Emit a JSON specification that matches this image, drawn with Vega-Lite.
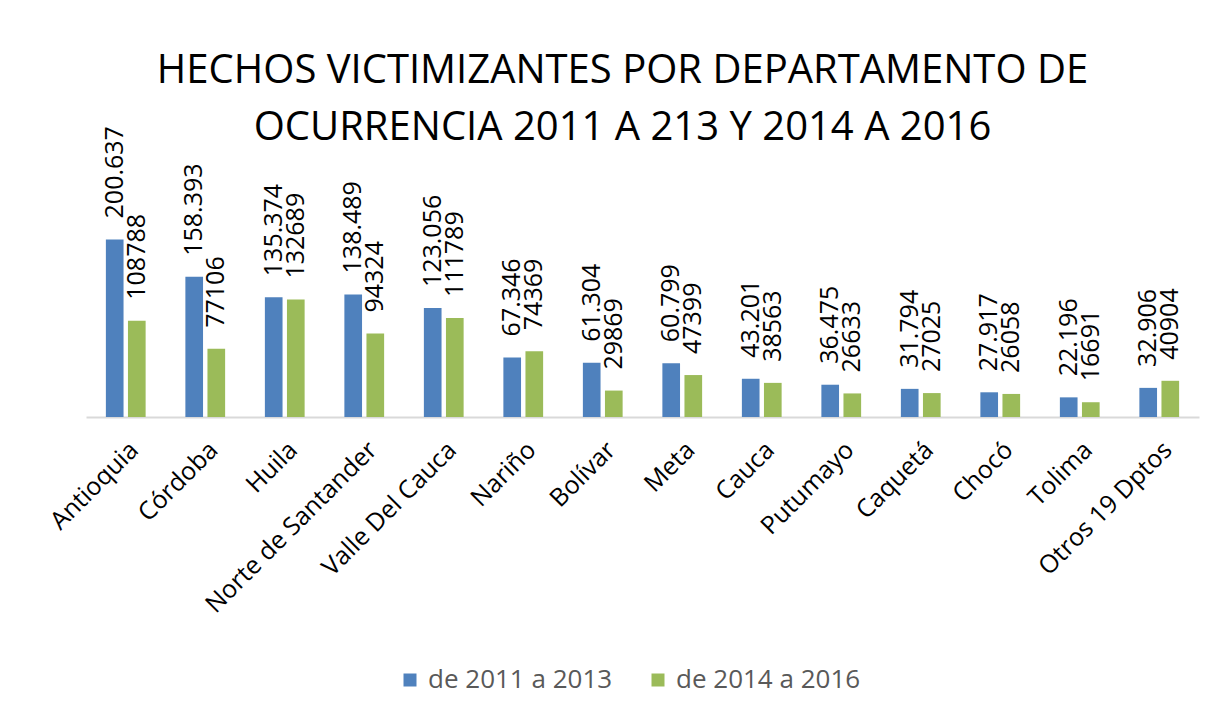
{
  "$schema": "https://vega.github.io/schema/vega-lite/v6.json",
  "width": 1113,
  "height": 250,
  "autosize": "none",
  "padding": {"left": 86, "top": 167, "right": 23, "bottom": 302},
  "background": "white",
  "title": {
    "text": ["HECHOS VICTIMIZANTES POR DEPARTAMENTO DE", "OCURRENCIA 2011 A 213 Y 2014 A 2016"],
    "font": "Open Sans",
    "fontSize": 40,
    "fontWeight": "normal",
    "color": "#000000",
    "anchor": "middle",
    "dx": -20,
    "offset": -22,
    "lineHeight": 57
  },
  "data": {
    "values": [
      {"dept": "Antioquia", "periodo": "de 2011 a 2013", "valor": 200637, "etiqueta": "200.637"},
      {"dept": "Antioquia", "periodo": "de 2014 a 2016", "valor": 108788, "etiqueta": "108788"},
      {"dept": "Córdoba", "periodo": "de 2011 a 2013", "valor": 158393, "etiqueta": "158.393"},
      {"dept": "Córdoba", "periodo": "de 2014 a 2016", "valor": 77106, "etiqueta": "77106"},
      {"dept": "Huila", "periodo": "de 2011 a 2013", "valor": 135374, "etiqueta": "135.374"},
      {"dept": "Huila", "periodo": "de 2014 a 2016", "valor": 132689, "etiqueta": "132689"},
      {"dept": "Norte de Santander", "periodo": "de 2011 a 2013", "valor": 138489, "etiqueta": "138.489"},
      {"dept": "Norte de Santander", "periodo": "de 2014 a 2016", "valor": 94324, "etiqueta": "94324"},
      {"dept": "Valle Del Cauca", "periodo": "de 2011 a 2013", "valor": 123056, "etiqueta": "123.056"},
      {"dept": "Valle Del Cauca", "periodo": "de 2014 a 2016", "valor": 111789, "etiqueta": "111789"},
      {"dept": "Nariño", "periodo": "de 2011 a 2013", "valor": 67346, "etiqueta": "67.346"},
      {"dept": "Nariño", "periodo": "de 2014 a 2016", "valor": 74369, "etiqueta": "74369"},
      {"dept": "Bolívar", "periodo": "de 2011 a 2013", "valor": 61304, "etiqueta": "61.304"},
      {"dept": "Bolívar", "periodo": "de 2014 a 2016", "valor": 29869, "etiqueta": "29869"},
      {"dept": "Meta", "periodo": "de 2011 a 2013", "valor": 60799, "etiqueta": "60.799"},
      {"dept": "Meta", "periodo": "de 2014 a 2016", "valor": 47399, "etiqueta": "47399"},
      {"dept": "Cauca", "periodo": "de 2011 a 2013", "valor": 43201, "etiqueta": "43.201"},
      {"dept": "Cauca", "periodo": "de 2014 a 2016", "valor": 38563, "etiqueta": "38563"},
      {"dept": "Putumayo", "periodo": "de 2011 a 2013", "valor": 36475, "etiqueta": "36.475"},
      {"dept": "Putumayo", "periodo": "de 2014 a 2016", "valor": 26633, "etiqueta": "26633"},
      {"dept": "Caquetá", "periodo": "de 2011 a 2013", "valor": 31794, "etiqueta": "31.794"},
      {"dept": "Caquetá", "periodo": "de 2014 a 2016", "valor": 27025, "etiqueta": "27025"},
      {"dept": "Chocó", "periodo": "de 2011 a 2013", "valor": 27917, "etiqueta": "27.917"},
      {"dept": "Chocó", "periodo": "de 2014 a 2016", "valor": 26058, "etiqueta": "26058"},
      {"dept": "Tolima", "periodo": "de 2011 a 2013", "valor": 22196, "etiqueta": "22.196"},
      {"dept": "Tolima", "periodo": "de 2014 a 2016", "valor": 16691, "etiqueta": "16691"},
      {"dept": "Otros 19 Dptos", "periodo": "de 2011 a 2013", "valor": 32906, "etiqueta": "32.906"},
      {"dept": "Otros 19 Dptos", "periodo": "de 2014 a 2016", "valor": 40904, "etiqueta": "40904"}
    ]
  },
  "encoding": {
    "x": {
      "field": "dept",
      "type": "nominal",
      "sort": null,
      "scale": {"paddingInner": 0.5, "paddingOuter": 0.25},
      "axis": {
        "title": null,
        "labelAngle": -45,
        "labelFont": "Open Sans",
        "labelFontSize": 25,
        "labelColor": "#000000",
        "labelPadding": 20,
        "labelDx": -6,
        "labelDy": -3,
        "labelLimit": 0,
        "labelOverlap": false,
        "ticks": false,
        "domainColor": "#d9d9d9",
        "domainWidth": 2,
        "grid": false
      }
    },
    "xOffset": {"field": "periodo", "type": "nominal", "scale": {"paddingInner": 0.2}},
    "y": {
      "field": "valor",
      "type": "quantitative",
      "scale": {"domain": [0, 282486], "nice": false},
      "axis": null
    }
  },
  "layer": [
    {
      "mark": {"type": "bar"},
      "encoding": {
        "color": {
          "field": "periodo",
          "type": "nominal",
          "scale": {"range": ["#4F81BD", "#9BBB59"]},
          "legend": {
            "title": null,
            "orient": "none",
            "direction": "horizontal",
            "legendX": 311,
            "legendY": 500,
            "padding": 0,
            "symbolType": "square",
            "symbolSize": 169,
            "symbolStrokeWidth": 0,
            "labelFont": "Open Sans",
            "labelFontSize": 26,
            "labelColor": "#595959",
            "labelOffset": 5,
            "labelLimit": 0,
            "columnPadding": 32
          }
        }
      }
    },
    {
      "mark": {
        "type": "text",
        "angle": -90,
        "align": "left",
        "baseline": "middle",
        "dx": 21,
        "font": "Open Sans",
        "fontSize": 25,
        "color": "#000000"
      },
      "encoding": {"text": {"field": "etiqueta", "type": "nominal"}}
    }
  ],
  "config": {"view": {"stroke": null}}
}
